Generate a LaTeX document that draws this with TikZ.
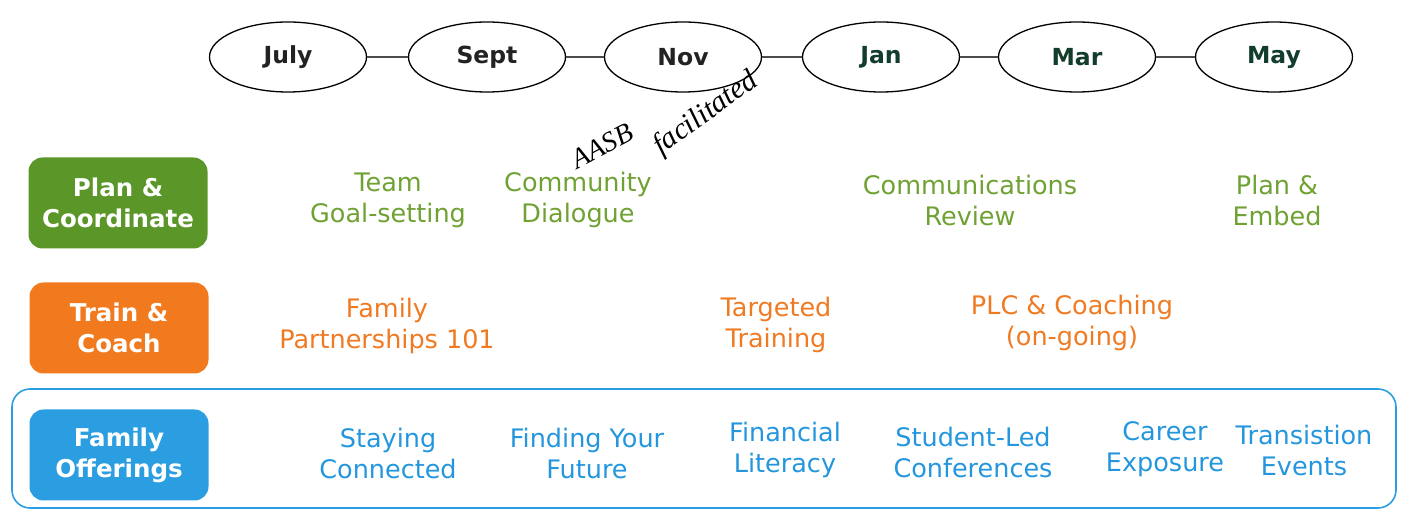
\documentclass[tikz,border=0pt]{standalone}
\usepackage{fontspec}
\setmainfont{DejaVu Sans}
\newfontfamily\handfont{Liberation Serif}
\definecolor{pgreen}{HTML}{5B9628}
\definecolor{porange}{HTML}{F27A1E}
\definecolor{pblue}{HTML}{2B9EE2}
\definecolor{tgreen}{HTML}{6FA133}
\definecolor{torange}{HTML}{F07A22}
\definecolor{tblue}{HTML}{2496DE}
\definecolor{mdark}{HTML}{222222}
\definecolor{mgreen}{HTML}{123D2C}
\tikzset{
  month/.style={draw=black, line width=1.3pt, ellipse, minimum width=157pt, minimum height=70pt, inner sep=0pt, font=\fontsize{23.5}{26}\selectfont\bfseries},
  rowbox/.style={rounded corners=14pt, minimum width=179pt, minimum height=91pt, text=white, align=center, font=\fontsize{24.5}{31}\selectfont\bfseries, inner sep=0pt},
  item/.style={align=center, font=\fontsize{25.5}{31}\selectfont, inner sep=0pt},
  link/.style={draw=black!70, line width=1.3pt}
}
\usetikzlibrary{shapes.geometric}
\begin{document}
\begin{tikzpicture}[x=1pt,y=-1pt]
\useasboundingbox (0,0) rectangle (1401,510);
% months
\node[month, text=mdark] (jul) at (288,57) {July};
\node[month, text=mdark] (sep) at (487,57) {Sept};
\node[month, text=mdark] (nov) at (683,57) {Nov};
\node[month, text=mgreen] (jan) at (881,57) {Jan};
\node[month, text=mgreen] (mar) at (1077,57) {Mar};
\node[month, text=mgreen] (may) at (1274,57) {May};
\draw[link] (jul) -- (sep);
\draw[link] (sep) -- (nov);
\draw[link] (nov) -- (jan);
\draw[link] (jan) -- (mar);
\draw[link] (mar) -- (may);
% outline of family row
\draw[draw=pblue, line width=1.6pt, rounded corners=18pt] (12,389) rectangle (1396,508);
% row boxes
\node[rowbox, fill=pgreen] (plan) at (118,203) {Plan \&\\Coordinate};
\node[rowbox, fill=porange] (train) at (119,328) {Train \&\\Coach};
\node[rowbox, fill=pblue] (fam) at (119,455) {Family\\Offerings};
% green row
\node[item, text=tgreen] (g1) at (388,200) {Team\\Goal-setting};
\node[item, text=tgreen] (g2) at (578,200) {Community\\Dialogue};
\node[item, text=tgreen] (g3) at (970,200) {Communications\\Review};
\node[item, text=tgreen] (g4) at (1277,200) {Plan \&\\Embed};
% orange row
\node[item, text=torange] (o1) at (387,326) {Family\\Partnerships 101};
\node[item, text=torange] (o2) at (776,325) {Targeted\\Training};
\node[item, text=torange] (o3) at (1072,323) {PLC \& Coaching\\(on-going)};
% blue row
\node[item, text=tblue] (b1) at (388,453) {Staying\\Connected};
\node[item, text=tblue] (b2) at (587,453) {Finding Your\\Future};
\node[item, text=tblue] (b3) at (785,450) {Financial\\Literacy};
\node[item, text=tblue] (b4) at (973,452) {Student-Led\\Conferences};
\node[item, text=tblue] (b5) at (1165,449) {Career\\Exposure};
\node[item, text=tblue] (b6) at (1304,450) {Transistion\\Events};
% handwritten note
\node[rotate=28, font=\handfont\itshape\fontsize{28}{28}\selectfont, inner sep=0pt] (hn1) at (602,146) {AASB};
\node[rotate=36, font=\handfont\itshape\fontsize{30}{30}\selectfont, inner sep=0pt] (hn2) at (706,114) {facilitated};
\end{tikzpicture}
\end{document}
